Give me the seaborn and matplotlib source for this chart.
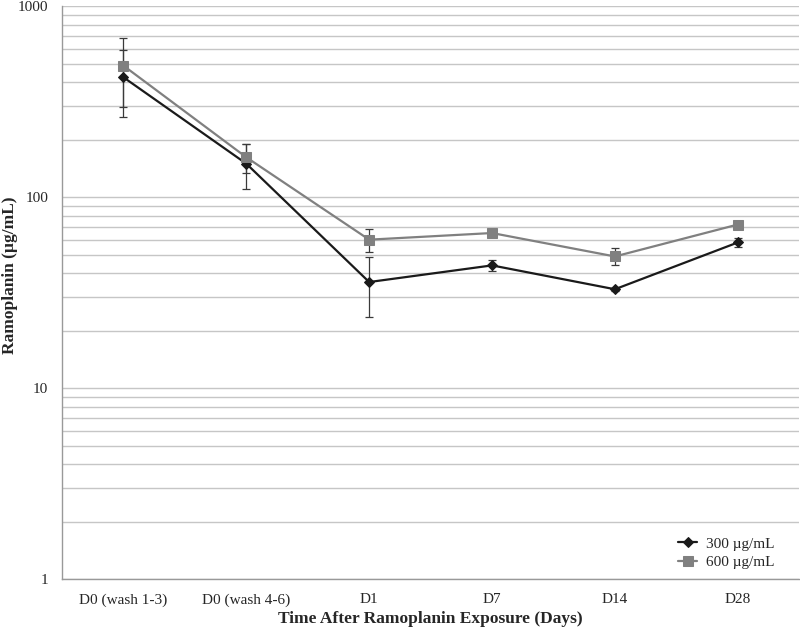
import matplotlib
matplotlib.use("Agg")
import matplotlib.pyplot as plt
import seaborn as sns
import pandas as pd
import numpy as np
from matplotlib.ticker import LogLocator, FixedLocator, NullFormatter, FixedFormatter

categories = ["D0 (wash 1-3)", "D0 (wash 4-6)", "D1", "D7", "D14", "D28"]
mean_300 = [425, 150, 36, 44, 33, 58]
err_300 = [163, 40, 12.5, 2.8, 0.5, 3]
mean_600 = [489, 162, 60, 65, 49, 72]
err_600 = [191, 28, 8, 1.5, 5, 3.5]
series_labels = ["300 µg/mL", "600 µg/mL"]
ytick_values = [1, 10, 100, 1000]
ytick_labels = ["1", "10", "100", "1000"]

sns.set_style("white")
plt.rcParams['font.family'] = ['Liberation Serif', 'DejaVu Serif']

df = pd.DataFrame({
    "Time": categories * 2,
    "x": list(range(len(categories))) * 2,
    "value": mean_300 + mean_600,
    "err": err_300 + err_600,
    "Dose": [series_labels[0]] * len(categories) + [series_labels[1]] * len(categories),
})

fig = plt.figure(figsize=(8, 6.3), dpi=100)
ax = fig.add_axes([0.0775, 0.0805, 0.9215, 0.9095])

grid_color = "#c6c6c6"
ax.set_yscale("log")
ax.set_ylim(1, 1000)
ax.set_xlim(-0.5, len(categories) - 0.5)

ax.yaxis.set_major_locator(FixedLocator(ytick_values))
ax.yaxis.set_major_formatter(FixedFormatter(ytick_labels))
ax.yaxis.set_minor_locator(LogLocator(base=10, subs=np.arange(2, 10)))
ax.yaxis.set_minor_formatter(NullFormatter())
ax.grid(True, which="both", axis="y", color=grid_color, linewidth=1.0)
ax.set_axisbelow(True)

colors = {series_labels[0]: "#1a1a1a", series_labels[1]: "#808080"}
markers = {series_labels[0]: "D", series_labels[1]: "s"}
sizes = {series_labels[0]: 5, series_labels[1]: 6.5}

for lab in series_labels:
    sub = df[df["Dose"] == lab]
    ax.errorbar(sub["x"], sub["value"], yerr=sub["err"], fmt="none",
                ecolor="#3a3a3a", elinewidth=0.9, capsize=3, capthick=0.9, zorder=2)

for lab in series_labels:
    sub = df[df["Dose"] == lab]
    sns.lineplot(data=sub, x="x", y="value", ax=ax, color=colors[lab],
                 marker=markers[lab], markersize=sizes[lab], markeredgecolor=colors[lab],
                 linewidth=1.6, label=lab, zorder=3)

ax.set_xticks(np.arange(len(categories)))
ax.set_xticklabels(categories, fontsize=11)
ax.xaxis.set_minor_locator(FixedLocator(np.arange(-0.5, len(categories), 1.0)))
ax.tick_params(axis="x", which="major", length=0, pad=10)
ax.tick_params(axis="x", which="minor", length=5, color="#999999", direction="out")
ax.tick_params(axis="y", which="major", length=4, color="#999999", labelsize=11, pad=6)
ax.tick_params(axis="y", which="minor", length=4, color="#999999")

for s in ["top", "right"]:
    ax.spines[s].set_visible(False)
for s in ["left", "bottom"]:
    ax.spines[s].set_color("#999999")
    ax.spines[s].set_linewidth(1.0)

ax.set_xlabel("Time After Ramoplanin Exposure (Days)", fontsize=12.5, fontweight="bold", labelpad=3)
ax.set_ylabel("Ramoplanin (µg/mL)", fontsize=12.5, fontweight="bold", va="center")
ax.yaxis.set_label_coords(-0.0706, 0.53)

ax.legend(loc="lower right", frameon=False, fontsize=11, handlelength=1.2,
          handletextpad=0.6, labelspacing=0.3, bbox_to_anchor=(0.985, -0.006))

fig.savefig("out.png", dpi=100)
